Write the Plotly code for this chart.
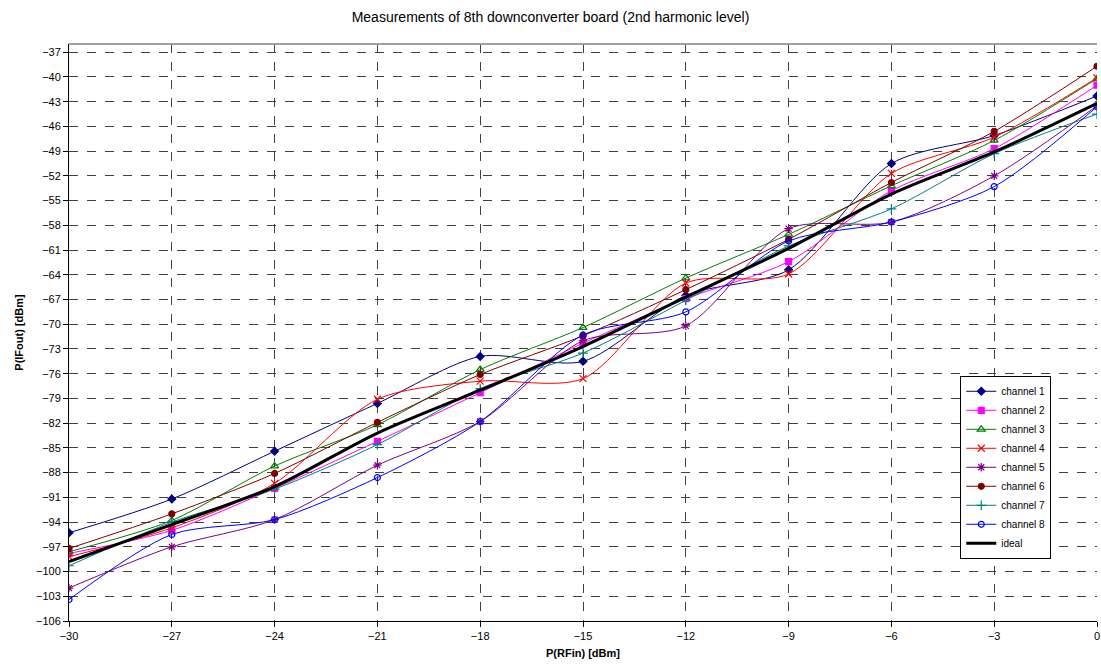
import plotly.graph_objects as go

x_vals = [-30, -27, -24, -21, -18, -15, -12, -9, -6, -3, 0]

ch1 = [-95.3, -91.2, -85.4, -79.6, -73.9, -74.5, -66.5, -63.4, -50.5, -47.1, -42.3]
ch2 = [-97.8, -95.0, -89.9, -84.2, -78.3, -72.3, -66.9, -62.4, -53.8, -48.7, -41.0]
ch3 = [-97.6, -93.8, -87.2, -82.2, -75.5, -70.4, -64.4, -59.1, -53.2, -47.7, -40.2]
ch4 = [-98.2, -94.7, -89.3, -79.1, -76.9, -76.6, -65.0, -63.9, -51.7, -47.3, -40.1]
ch5 = [-102.0, -97.0, -93.7, -87.1, -81.8, -72.0, -70.2, -58.4, -57.6, -52.0, -43.5]
ch6 = [-97.2, -93.0, -88.1, -81.9, -76.1, -71.4, -65.8, -59.7, -52.8, -46.6, -38.7]
ch7 = [-99.3, -94.0, -90.0, -84.6, -77.8, -73.5, -67.1, -60.5, -56.0, -49.3, -44.5]
ch8 = [-103.4, -95.5, -93.7, -88.6, -81.8, -71.3, -68.5, -59.9, -57.6, -53.3, -43.6]
ideal = [-98.8, -94.3, -89.7, -83.2, -78.0, -72.7, -66.7, -60.8, -54.2, -49.1, -43.2]

names = ["channel 1", "channel 2", "channel 3", "channel 4", "channel 5",
         "channel 6", "channel 7", "channel 8"]
series = [ch1, ch2, ch3, ch4, ch5, ch6, ch7, ch8]
colors = ["#000080", "#FF00FF", "#008000", "#FF0000", "#800080",
          "#800000", "#008080", "#0000FF"]
symbols = ["diamond", "square", "triangle-up-open", "x-thin-open", "asterisk-open",
           "circle", "cross-thin-open", "circle-open"]
sizes = [6, 6, 7, 7, 7, 6, 7, 6]

x_ticks = [-30, -27, -24, -21, -18, -15, -12, -9, -6, -3, 0]
y_ticks = list(range(-106, -36, 3))

fig = go.Figure()
for n, s, c, sym, sz in zip(names, series, colors, symbols, sizes):
    fig.add_trace(go.Scatter(
        x=x_vals, y=s, name=n, mode="lines+markers",
        line=dict(color=c, width=1, shape="spline", smoothing=0.8),
        marker=dict(symbol=sym, color=c, size=sz, line=dict(color=c, width=1.2)),
    ))
fig.add_trace(go.Scatter(
    x=x_vals, y=ideal, name="ideal", mode="lines",
    line=dict(color="black", width=3, shape="spline", smoothing=0.8),
))

fig.update_layout(
    width=1101, height=672,
    margin=dict(l=69, r=1, t=44, b=51),
    paper_bgcolor="white", plot_bgcolor="white",
    font=dict(family="Liberation Sans, Arial, sans-serif", size=11, color="black"),
    title=dict(text="Measurements of 8th downconverter board (2nd harmonic level)",
               x=0.5, xanchor="center", y=0.975, yanchor="middle",
               font=dict(size=14)),
    showlegend=True,
    legend=dict(x=0.867, y=0.425, xanchor="left", yanchor="top",
                bgcolor="white", bordercolor="black", borderwidth=1,
                font=dict(size=10), itemwidth=30, tracegroupgap=0),
    xaxis=dict(range=[-30, 0], tickvals=x_ticks, ticks="outside", ticklen=5,
               tickcolor="black", showline=True, linecolor="black", linewidth=1,
               showgrid=True, gridcolor="#404040", griddash="dash", gridwidth=1,
               zeroline=False, mirror=False, ticklabeloverflow="allow",
               title=dict(text="<b>P(RFin) [dBm]</b>", font=dict(size=11), standoff=8)),
    yaxis=dict(range=[-106, -36], tickvals=y_ticks, ticks="outside", ticklen=5,
               tickcolor="black", showline=True, linecolor="black", linewidth=1,
               showgrid=True, gridcolor="#404040", griddash="dash", gridwidth=1,
               zeroline=False,
               title=dict(text="<b>P(IFout) [dBm]</b>", font=dict(size=11), standoff=10)),
)
fig.add_shape(type="line", xref="paper", yref="paper", x0=0, x1=1, y0=1, y1=1,
              line=dict(color="#A0A0A0", width=2))

fig.write_html("out.html")
